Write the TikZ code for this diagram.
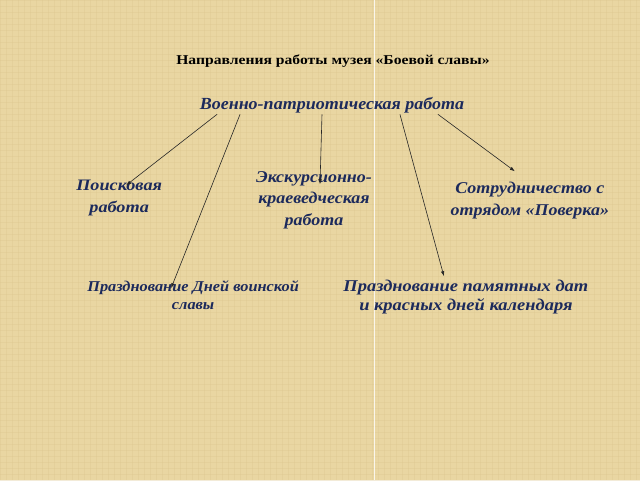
\documentclass[tikz,border=0pt]{standalone}
\usepackage{fontspec}
\setmainfont{Liberation Serif}
\usetikzlibrary{arrows.meta}
\definecolor{parch}{RGB}{233,214,162}
\definecolor{parchdark}{RGB}{220,198,142}
\definecolor{navy}{RGB}{28,42,92}
\newcommand{\lblfont}[3]{\bfseries\itshape\fontsize{#1}{#2}\selectfont\addfontfeatures{FakeStretch=#3}}
\tikzset{
  lbl/.style={text=navy, align=center, inner sep=0pt},
  conn/.style={line width=0.6pt, black!85, -{Latex[length=5pt,width=3.5pt]}}
}
\begin{document}
\begin{tikzpicture}[x=1pt,y=-1pt]
  % background
  \fill[parch] (0,0) rectangle (640,480);
  \foreach \i in {0,6,...,640} {\draw[parchdark, line width=0.5pt, opacity=0.35] (\i,0) -- (\i,480);}
  \foreach \j in {0,6,...,480} {\draw[parchdark, line width=0.5pt, opacity=0.35] (0,\j) -- (640,\j);}
  \draw[white, line width=0.8pt, opacity=0.8] (374,0) -- (374,480);
  \useasboundingbox (0,0) rectangle (640,480);

  \node[font={\bfseries\fontsize{13.5}{16}\selectfont\addfontfeatures{FakeStretch=1.16}}, inner sep=0pt] (title) at (333,61) {Направления работы музея «Боевой славы»};
  \node[lbl, font={\lblfont{17}{20}{1.06}}] (main) at (332,105) {Военно-патриотическая работа};

  \node[lbl, font={\lblfont{16}{22}{1.14}}] (poisk) at (119,198) {Поисковая\\работа};
  \node[lbl, font={\lblfont{16.5}{21.5}{1.09}}] (excur) at (314,200) {Экскурсионно-\\краеведческая\\работа};
  \node[lbl, font={\lblfont{16.5}{22}{1.09}}] (sotr) at (530,200) {Сотрудничество с\\отрядом «Поверка»};
  \node[lbl, font={\lblfont{15}{18.5}{1.09}}] (dni) at (193,295) {Празднование Дней воинской\\славы};
  \node[lbl, font={\lblfont{16.5}{19.5}{1.12}}] (daty) at (466,297) {Празднование памятных дат\\и красных дней календаря};

  \coordinate (s1) at (217,114);
  \coordinate (s2) at (240,114);
  \coordinate (s3) at (322,114);
  \coordinate (s4) at (400,114);
  \coordinate (s5) at (438,114);
  \coordinate (e1) at (126,185);
  \coordinate (e2) at (171,288);
  \coordinate (e3) at (320,184);
  \coordinate (e4) at (444,276);
  \coordinate (e5) at (515,171);

  \draw[conn] (s1) -- (e1);
  \draw[conn] (s2) -- (e2);
  \draw[conn] (s3) -- (e3);
  \draw[conn] (s4) -- (e4);
  \draw[conn] (s5) -- (e5);
\end{tikzpicture}
\end{document}
